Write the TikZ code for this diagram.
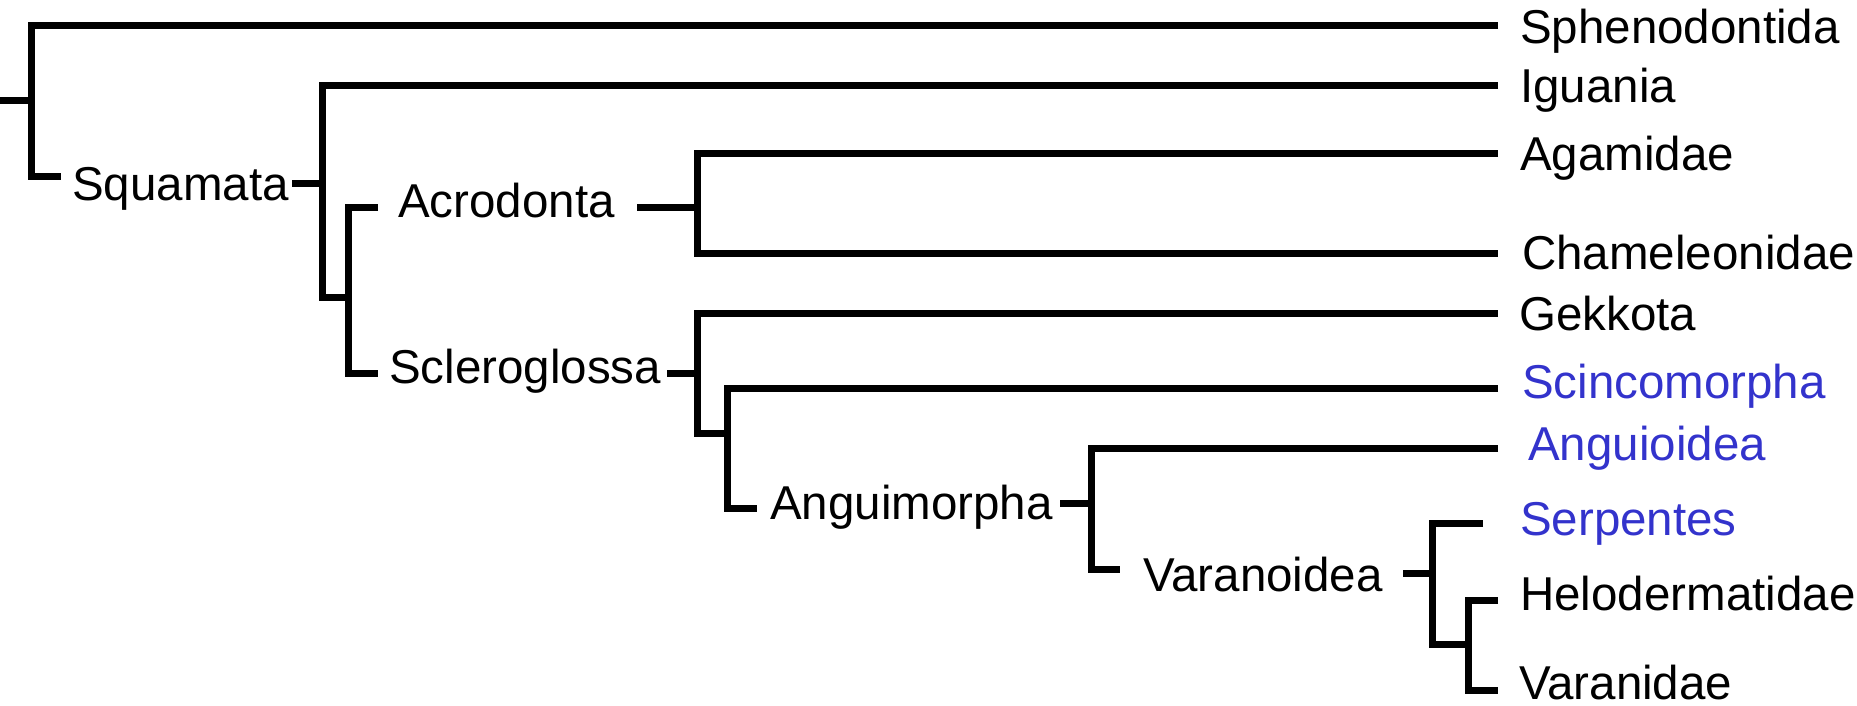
\documentclass[tikz,border=0pt]{standalone}
\usepackage{fontspec}
\setmainfont{Liberation Sans}
\definecolor{taxblue}{RGB}{51,51,204}
\begin{document}
\begin{tikzpicture}[x=1pt,y=-1pt,
  br/.style={line width=7pt,line cap=butt,line join=miter},
  lbl/.style={anchor=base west,inner sep=0pt,font=\fontsize{47.5}{57}\selectfont},
  hl/.style={lbl,text=taxblue}]
\useasboundingbox (0,0) rectangle (1857,705);
% labels
\node[lbl] (sphe) at (1520,43) {Sphenodontida};
\node[lbl] (igua) at (1520,102) {Iguania};
\node[lbl] (agam) at (1520,170) {Agamidae};
\node[lbl] (cham) at (1522,269) {Chameleonidae};
\node[lbl] (gekk) at (1519,330) {Gekkota};
\node[hl] (scin) at (1522,398) {Scincomorpha};
\node[hl] (angu) at (1528,460) {Anguioidea};
\node[hl] (serp) at (1520,535) {Serpentes};
\node[lbl] (helo) at (1520,610) {Helodermatidae};
\node[lbl] (vara) at (1519,699) {Varanidae};
\node[lbl] (squa) at (72,200) {Squamata};
\node[lbl] (acro) at (398,217) {Acrodonta};
\node[lbl] (scle) at (389,383) {Scleroglossa};
\node[lbl] (angm) at (770,519) {Anguimorpha};
\node[lbl] (varo) at (1143,591) {Varanoidea};
% line ends
\coordinate (eSphe) at (1498,25);
\coordinate (eIgua) at (1498,85);
\coordinate (eAgam) at (1498,153);
\coordinate (eCham) at (1498,253);
\coordinate (eGekk) at (1498,313);
\coordinate (eScin) at (1498,388);
\coordinate (eAngu) at (1498,448);
\coordinate (eSerp) at (1483,523);
\coordinate (eHelo) at (1498,600);
\coordinate (eVara) at (1498,690);
\coordinate (root) at (0,100);
\coordinate (sSqua) at (61,176);
\coordinate (fSqua) at (292,183);
\coordinate (sAcro) at (378,207);
\coordinate (sScle) at (378,373);
\coordinate (fAcro) at (637,207);
\coordinate (fScle) at (667,373);
\coordinate (sInner) at (727,433);
\coordinate (sAngm) at (757,508);
\coordinate (fAngm) at (1060,503);
\coordinate (sVaro) at (1120,569);
\coordinate (fVaro) at (1403,573);
\coordinate (sHV) at (1468,644);
% branches
\draw[br] (root) -- (31,100);
\draw[br] (eSphe) -- (31,25) -- (31,176) -- (sSqua);
\draw[br] (fSqua) -- (322,183);
\draw[br] (eIgua) -- (322,85) -- (322,297) -- (348,297);
\draw[br] (sAcro) -- (348,207) -- (348,373) -- (sScle);
\draw[br] (fAcro) -- (697,207);
\draw[br] (eAgam) -- (697,153) -- (697,253) -- (eCham);
\draw[br] (fScle) -- (697,373);
\draw[br] (eGekk) -- (697,313) -- (697,433) -- (sInner);
\draw[br] (eScin) -- (727,388) -- (727,508) -- (sAngm);
\draw[br] (fAngm) -- (1091,503);
\draw[br] (eAngu) -- (1091,448) -- (1091,569) -- (sVaro);
\draw[br] (fVaro) -- (1432,573);
\draw[br] (eSerp) -- (1432,523) -- (1432,644) -- (sHV);
\draw[br] (eHelo) -- (1468,600) -- (1468,690) -- (eVara);
\end{tikzpicture}
\end{document}
